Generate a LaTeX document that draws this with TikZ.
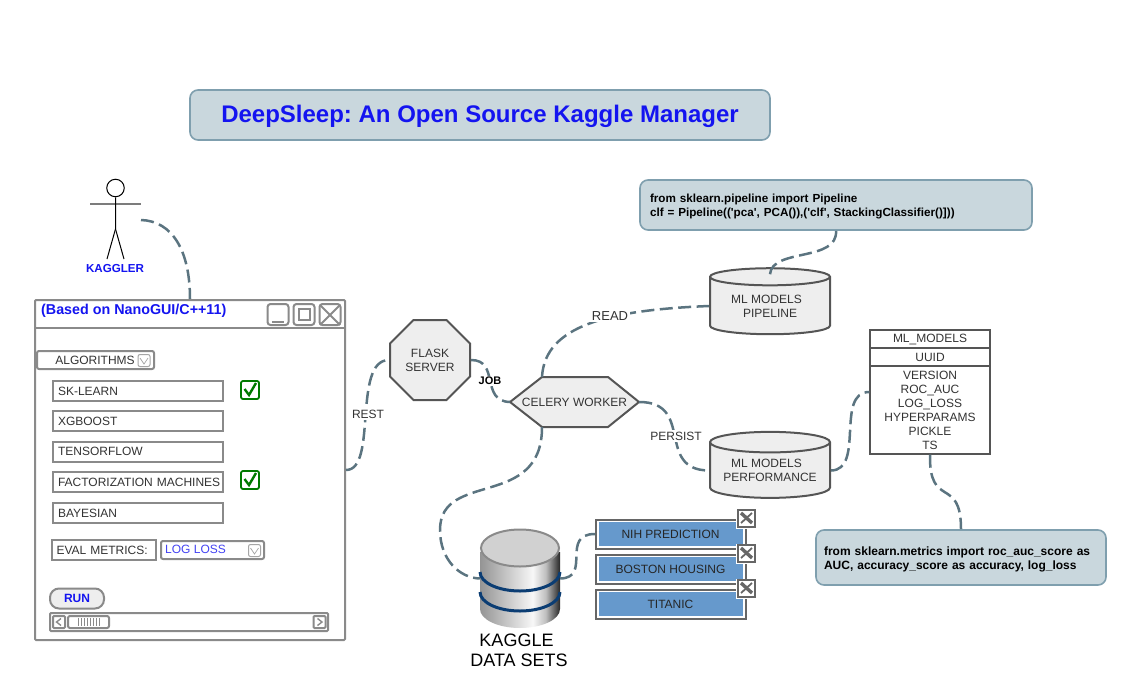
\documentclass[tikz,border=0pt]{standalone}
\usepackage{fontspec}
\setmainfont{Liberation Sans}
\newfontfamily\codefont{Liberation Sans}
\usetikzlibrary{shapes.geometric}
\AtBeginDocument{\frenchspacing}
\definecolor{titlefill}{HTML}{C9D7DD}
\definecolor{titleline}{HTML}{7F9FAE}
\definecolor{linkcolor}{HTML}{5B7480}
\definecolor{uigray}{HTML}{8A8A8A}
\definecolor{shapefill}{HTML}{EEEEEE}
\definecolor{shapeline}{HTML}{555555}
\definecolor{textdark}{HTML}{333333}
\definecolor{setblue}{HTML}{6699CC}
\definecolor{navy}{HTML}{0B3D73}
\definecolor{okgreen}{HTML}{007A00}
\definecolor{uiblue}{HTML}{1414F0}
\pgfdeclarehorizontalshading{dbshade}{100bp}{
	color(0bp)=(black!42); color(25bp)=(black!42); color(42bp)=(black!22);
	color(58bp)=(black!3); color(66bp)=(black!25); color(75bp)=(black!85); color(100bp)=(black!85)}
\tikzset{
	every node/.style={font=\fontsize{12}{14}\selectfont, text=textdark, inner sep=0pt},
	link/.style={draw=linkcolor, line width=2.5pt, dash pattern=on 13pt off 5.5pt},
	roundbox/.style={draw=titleline, line width=1.6pt, fill=titlefill, rounded corners=8pt},
	codebox/.style={roundbox, align=left, text=black, text height=9pt, text depth=14pt, font=\codefont\bfseries\fontsize{12}{14}\selectfont},
	uibox/.style={draw=uigray, line width=2pt, fill=white},
	algobox/.style={uibox, minimum height=20pt, align=left},
	tank/.style={cylinder, shape border rotate=90, aspect=0.22, draw=shapeline, line width=2pt, fill=shapefill,
		minimum width=120pt, minimum height=66pt, align=center},
	tablebox/.style={draw=shapeline, line width=1.4pt, fill=white, minimum width=120pt, align=center},
	tag/.style={fill=white, inner sep=1.5pt},
	dropbtn/.style={draw=black!35, line width=1pt, fill=white, rounded corners=2pt},
}
\begin{document}
\begin{tikzpicture}[x=1pt,y=-1pt]
	\useasboundingbox (0,0) rectangle (1126,690);
	\node (title) [roundbox, minimum width=580pt, minimum height=50pt, text height=20pt, text depth=5pt, text=uiblue, font=\bfseries\fontsize{24}{28}\selectfont] at (480,115) {DeepSleep: An Open Source Kaggle Manager};
	% kaggler
	\node (head) [circle, draw=black, line width=1pt, minimum size=17.5pt] at (115.5,188) {};
	\draw [uigray!90!black, line width=1.6pt] (90,204) -- (141,204);
	\draw [black, line width=1pt] (head.south) -- (115.5,229) -- (107,259);
	\draw [black, line width=1pt] (115.5,229) -- (124,259);
	\coordinate (kagglerhand) at (141,220);
	\node (kaggler) [text=uiblue, font=\bfseries\fontsize{11.6}{14}\selectfont] at (115,268.5) {KAGGLER};
	% window
	\node (window) [draw=uigray, line width=2pt, fill=white, rounded corners=1pt, minimum width=310pt, minimum height=340pt] at (190,470) {};
	\draw [uigray, line width=2pt] (35,328) -- (345,328);
	\node (wintitle) [anchor=west, text=uiblue, font=\bfseries\fontsize{14.3}{16}\selectfont] at (41,311) {(Based on NanoGUI/C++11)};
	\foreach \name/\x in {minbtn/278,maxbtn/304,closebtn/330}
	\node (\name) [draw=uigray, line width=2pt, fill=white, rounded corners=3pt, minimum size=21pt] at (\x,314.5) {};
	\draw [uigray, line width=2pt] (272,321.5) -- (284,321.5);
	\draw [uigray, line width=2pt] (298.5,309) rectangle (309.5,320);
	\draw [uigray, line width=2pt] (320,305) -- (340,325) (340,305) -- (320,325);
	\node (algos) [uibox, rounded corners=2pt, minimum width=117pt, minimum height=18pt] at (95.5,360) {};
	\node at (95,360) {ALGORITHMS};
	\node (algosdrop) [dropbtn, minimum size=12pt] at (144,360.5) {};
	\draw [black!35, line width=.7pt] (140,358) -- (144,364) -- (148,358);
	\foreach \name/\y/\label in {sklearn/391/SK-LEARN,xgboost/421/XGBOOST,tensorflow/451.5/TENSORFLOW,factor/482/FACTORIZATION MACHINES,bayesian/513/BAYESIAN}
	\node (\name) [algobox, inner xsep=5pt, text width=160pt] at (138,\y) {\mbox{\label}};
	\foreach \y in {390,480}
	{
	\node (check\y) [draw=okgreen, line width=1.8pt, fill=white, rounded corners=2pt, minimum size=18pt] at (250,\y) {};
	\draw [okgreen, line width=2.4pt] (244.5,\y-1) -- (249,\y+5) -- (256,\y-7);
	}
	\node (evalbox) [algobox, inner xsep=4.5pt, text width=95pt] at (104,550) {EVAL METRICS:};
	\node (lossbox) [uibox, rounded corners=2pt, minimum width=103pt, minimum height=18pt] at (212.5,550) {};
	\node [anchor=west, text=uiblue!80!white] at (165,549.5) {LOG LOSS};
	\node (lossdrop) [dropbtn, minimum size=12pt] at (254.5,550.5) {};
	\draw [black!35, line width=.7pt] (250.5,548) -- (254.5,554) -- (258.5,548);
	\node (runbtn) [draw=uigray, line width=2pt, fill=shapefill, rounded corners=9pt, minimum width=54pt, minimum height=20pt, text=uiblue, font=\bfseries\fontsize{12}{14}\selectfont] at (77,598.5) {RUN};
	\node (scrollbar) [uibox, rounded corners=1pt, minimum width=278pt, minimum height=18pt] at (189,622) {};
	\node (scrollleft) [uibox, rounded corners=1pt, minimum size=12pt] at (59,622) {};
	\node (scrollright) [uibox, rounded corners=1pt, minimum size=12pt] at (319.5,622) {};
	\node (scrollthumb) [uibox, rounded corners=2pt, minimum width=41pt, minimum height=12pt] at (88.5,622) {};
	\draw [uigray, line width=1.4pt] (61,618.5) -- (56.5,622) -- (61,625.5);
	\draw [uigray, line width=1.4pt] (317.5,618.5) -- (322,622) -- (317.5,625.5);
	\foreach \x in {78,81,...,99}
	\draw [uigray, line width=.9pt] (\x,618) -- (\x,626);
	% services
	\node (flask) [regular polygon, regular polygon sides=8, draw=shapeline, line width=2pt, fill=shapefill, minimum size=86.6pt, align=center] at (430,360) {FLASK\\SERVER};
	\draw [draw=shapeline, line width=2pt, fill=shapefill] (510,402) -- (542,377) -- (608,377) -- (639,402) -- (608,427) -- (542,427) -- cycle;
	\node (celery) [minimum width=129pt, minimum height=50pt] at (574.5,402) {CELERY WORKER};
	\node (pipeline) [tank] at (770,306) {ML MODELS\hspace*{7pt}\\PIPELINE};
	\node (perf) [tank] at (770,470.5) {ML MODELS\hspace*{7pt}\\PERFORMANCE};
	\node (mlname) [tablebox, minimum height=18pt] at (930,339) {ML\_MODELS};
	\node (mluuid) [tablebox, minimum height=18pt] at (930,357) {UUID};
	\node (mlfields) [tablebox, minimum height=88pt] at (930,410) {VERSION\\ROC\_AUC\\LOG\_LOSS\\HYPERPARAMS\\PICKLE\\TS};
	\node (pipecode) [codebox, minimum width=392pt, minimum height=50pt, text width=372pt, inner xsep=10pt, font=\codefont\bfseries\fontsize{11.7}{14}\selectfont] at (836,205) {from sklearn.pipeline import Pipeline\\clf = Pipeline(('pca', PCA()),('clf', StackingClassifier()]))};
	\node (metriccode) [codebox, minimum width=290pt, minimum height=55pt, text width=274pt, inner xsep=8pt] at (961,557.5) {from sklearn.metrics import roc\_auc\_score as\\AUC, accuracy\_score as accuracy, log\_loss};
	% data sets
	\shade [shading=dbshade] (480,552) -- (480,609) arc [start angle=180, end angle=0, x radius=40, y radius=19] -- (560,552) -- cycle;
	\foreach \y in {572,592}
	\draw [navy, line width=3pt] (480,\y) arc [start angle=180, end angle=0, x radius=40, y radius=19];
	\draw [uigray, line width=2pt, fill=black!18] (520,548) ellipse [x radius=39, y radius=18.5];
	\node (db) [minimum width=80pt, minimum height=99pt] at (520,578.5) {};
	\node (dblabel) [text=black, font=\fontsize{18}{20}\selectfont, align=center] at (519,650) {KAGGLE\hspace*{5pt}\\DATA SETS};
	\foreach \name/\y/\label in {nih/534/NIH PREDICTION,boston/569/BOSTON HOUSING,titanic/604/TITANIC}
	{
	\node (\name) [draw=black!60, line width=2pt, fill=white, minimum width=150pt, minimum height=29pt] at (671,\y) {};
	\fill [setblue] (599,\y-12) rectangle (743,\y+12);
	\node [text=black!85] at (670.5,\y) {\label};
	\fill [white] (736,\y-25) rectangle (760,\y-5);
	\node (\name icon) [draw=black!60, line width=2pt, fill=white, minimum size=17pt] at (746.5,\y-16) {};
	\draw [black!60, line width=3.4pt] (741,\y-21) -- (752,\y-11);
	\draw [black!60, line width=1.8pt] (752,\y-21) -- (741,\y-11);
	}
	% links
	\draw [link] (kagglerhand) .. controls (172,221) and (190,250) .. (window.north);
	\draw [link] (window.east) .. controls (378,470) and (352,360) .. (flask.west);
	\draw [link] (flask.east) .. controls (500,360) and (480,401) .. (celery.west);
	\draw [link] ([xshift=-32.5pt]celery.north) .. controls (545,325) and (610,310) .. (pipeline.west);
	\draw [link] (celery.east) .. controls (695,402) and (655,470) .. (perf.west);
	\draw [link] ([xshift=-32.5pt]celery.south) .. controls (542,510) and (440,470) .. (440,530) .. controls (440,560) and (460,578) .. (db.west);
	\draw [link] (db.east) .. controls (592,578) and (560,534) .. (nih.west);
	\draw [link] (perf.east) .. controls (865,470) and (835,392) .. ([yshift=18pt]mlfields.west);
	\draw [link] (mlfields.south) .. controls (929,510) and (961,475) .. (metriccode.north);
	\draw [link] ([yshift=-7pt]pipeline.north) .. controls (772,248) and (838,262) .. (pipecode.south);
	\node (restlabel) [tag] at (368,414) {REST};
	\node (joblabel) [tag, text=black, font=\bfseries\fontsize{11}{14}\selectfont] at (490,381) {JOB};
	\node (readlabel) [tag, font=\fontsize{13}{14}\selectfont] at (610,316) {READ};
	\node (persistlabel) [tag] at (676,436) {PERSIST};
\end{tikzpicture}
\end{document}
